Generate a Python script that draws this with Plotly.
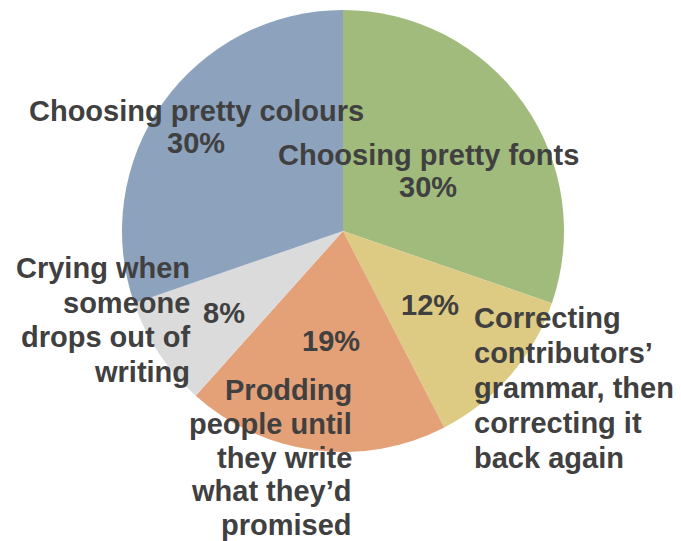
import plotly.graph_objects as go

# Data
categories = [
    "Choosing pretty fonts",
    "Correcting contributors’ grammar, then correcting it back again",
    "Prodding people until they write what they’d promised",
    "Crying when someone drops out of writing",
    "Choosing pretty colours",
]
values = [30, 12, 19, 8, 30]
colors = ["#A1BB7D", "#DDCB83", "#E4A178", "#DBDBDB", "#8DA2BD"]

label_lines = [
    ["Choosing pretty fonts"],
    ["Correcting", "contributors’", "grammar, then", "correcting it", "back again"],
    ["Prodding", "people until", "they write", "what they’d", "promised"],
    ["Crying when", "someone", "drops out of", "writing"],
    ["Choosing pretty colours"],
]

W, H = 681, 541
OFF = 8  # page body margin offset in the browser
total = sum(values)
pcts = [f"{round(v / total * 100)}%" for v in values]

CX, CY, R = 343 - OFF, 231 - OFF, 221

fig = go.Figure(go.Pie(
    labels=categories,
    values=values,
    marker=dict(colors=colors, line=dict(width=0)),
    sort=False,
    direction="clockwise",
    rotation=0,
    textinfo="none",
    hoverinfo="label+percent",
    domain=dict(x=[(CX - R) / W, (CX + R) / W], y=[1 - (CY + R) / H, 1 - (CY - R) / H]),
    showlegend=False,
))

FONT = dict(family="Liberation Sans, Arial, sans-serif", size=29, color="#404040")

annotations = []

def add_block(lines, x, y0, dy, xanchor):
    for i, line in enumerate(lines):
        x_px = x - OFF
        y_px = y0 + i * dy - OFF
        annotations.append(dict(
            text="<b>" + line + "</b>", x=x_px / W, y=1 - y_px / H,
            xref="paper", yref="paper", xanchor=xanchor, yanchor="middle",
            showarrow=False, font=FONT, borderpad=0, borderwidth=0,
        ))

# fonts slice: label + percent
add_block(label_lines[0] + [pcts[0]], 428, 155, 32, "center")
# colours slice: label + percent
add_block(label_lines[4] + [pcts[4]], 196, 111, 32, "center")
# grammar slice
add_block([pcts[1]], 430, 305, 0, "center")
add_block(label_lines[1], 474, 318, 35, "left")
# prodding slice
add_block([pcts[2]], 331, 341, 0, "center")
add_block(label_lines[2], 352, 390, 33.8, "right")
# crying slice
add_block([pcts[3]], 224, 313, 0, "center")
add_block(label_lines[3], 190, 268, 34.6, "right")

fig.update_layout(
    width=W, height=H,
    margin=dict(l=0, r=0, t=0, b=0),
    paper_bgcolor="white",
    plot_bgcolor="white",
    annotations=annotations,
)

fig.write_html("out.html")
